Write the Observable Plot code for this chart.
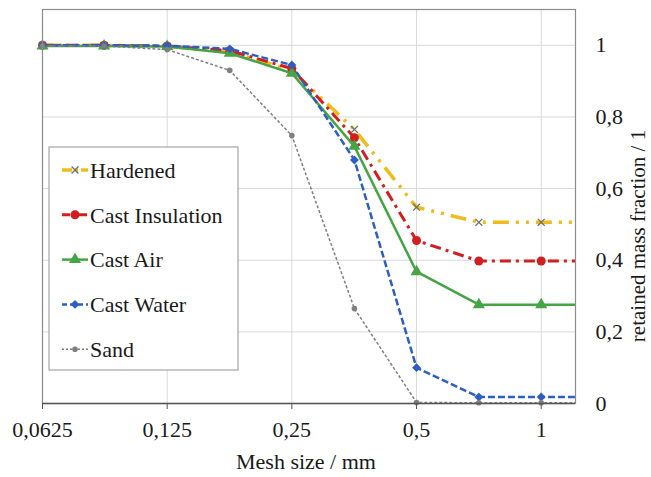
<!DOCTYPE html>
<html>
<head>
<meta charset="utf-8">
<script src="https://cdn.jsdelivr.net/npm/d3@7"></script>
<script src="https://cdn.jsdelivr.net/npm/@observablehq/plot@0.6"></script>
<style>
  html, body { margin: 0; padding: 0; background: #fff; }
  #chart { width: 651px; height: 477px; }
  #chart svg text { font-family: "Liberation Serif", "Tinos", "Times New Roman", Times, "DejaVu Serif", "Noto Serif", serif !important; }
</style>
</head>
<body>
<div id="chart"></div>
<script>
// ---- data ----
const meshSizes = [0.0625, 0.088, 0.125, 0.177, 0.25, 0.354, 0.5, 0.707, 1, 1.414];
const seriesNames = ["Hardened", "Cast Insulation", "Cast Air", "Cast Water", "Sand"];
const hardened       = [1.000, 1.000, 0.997, 0.982, 0.930, 0.765, 0.548, 0.506, 0.506, 0.506];
const castInsulation = [1.000, 1.000, 0.998, 0.985, 0.935, 0.742, 0.455, 0.398, 0.398, 0.398];
const castAir        = [0.998, 0.998, 0.997, 0.978, 0.922, 0.718, 0.368, 0.276, 0.276, 0.276];
const castWater      = [1.000, 1.000, 0.999, 0.990, 0.945, 0.680, 0.100, 0.018, 0.018, 0.018];
const sand           = [0.998, 0.998, 0.988, 0.930, 0.748, 0.265, 0.003, 0.002, 0.002, 0.002];
const xTicks = [0.0625, 0.125, 0.25, 0.5, 1];
const yTicks = [0, 0.2, 0.4, 0.6, 0.8, 1];
const xLabel = "Mesh size / mm";
const yLabel = "retained mass fraction / 1";

// ---- styles ----
const styles = [
  {color: "#eebd1c", width: 3.5, dash: "16 7 3 7 3 7", legendDash: "10 3 3 3", symbol: "times", r: 3.2, fill: "none", markStroke: "#707070"},
  {color: "#d11f1f", width: 3, dash: "11 5 3 5", legendDash: "8 3 3 3", symbol: "circle", r: 4.5, fill: "#d11f1f", markStroke: "none"},
  {color: "#45a545", width: 2.5, dash: null, legendDash: null, symbol: "triangle", r: 4.5, fill: "#45a545", markStroke: "none"},
  {color: "#2d5ec2", width: 2.5, dash: "7 3", legendDash: "5 3", symbol: "diamond2", r: 4, fill: "#2d5ec2", markStroke: "none"},
  {color: "#7f7f7f", width: 1.5, dash: "3 2", legendDash: "2 2", symbol: "circle", r: 2.8, fill: "#7f7f7f", markStroke: "none"}
];
const values = [hardened, castInsulation, castAir, castWater, sand];
const data = seriesNames.map((name, i) => meshSizes.map((x, j) => ({series: name, x, y: values[i][j]})));

const fmt = d => String(d).replace(".", ",");
const font = "'Liberation Serif', 'Tinos', 'Times New Roman', Times, 'DejaVu Serif', serif";

const marks = [
  Plot.gridY(yTicks, {stroke: "#d9d9d9", strokeOpacity: 1, strokeWidth: 1}),
  Plot.gridX(xTicks, {stroke: "#d9d9d9", strokeOpacity: 1, strokeWidth: 1}),
];
data.forEach((d, i) => {
  const s = styles[i];
  marks.push(Plot.line(d, {x: "x", y: "y", stroke: s.color, strokeWidth: s.width,
    strokeDasharray: s.dash || undefined, strokeLinecap: "butt", clip: true}));
});
data.forEach((d, i) => {
  const s = styles[i];
  marks.push(Plot.dot(d.filter(p => p.x <= 1), {x: "x", y: "y", symbol: () => s.symbol, r: s.r,
    fill: s.fill, stroke: s.markStroke, strokeWidth: 1.3}));
});
marks.push(
  Plot.frame({stroke: "#8c8c8c", strokeWidth: 1.2}),
  Plot.ruleY([0], {stroke: "#555", strokeWidth: 1.3}),
  Plot.axisX(xTicks, {tickFormat: fmt, tickSize: 6, tickPadding: 12, label: null,
    stroke: "#555", fontSize: 22, fill: "#1a1a1a"}),
  Plot.axisY(yTicks, {anchor: "right", tickFormat: fmt, tickSize: 0, tickPadding: 20,
    label: null, fontSize: 22, fill: "#1a1a1a"})
);

const plot = Plot.plot({
  width: 651, height: 477,
  marginLeft: 42, marginRight: 76, marginTop: 9, marginBottom: 74,
  style: {fontFamily: font, fontSize: "22px", background: "#fff", color: "#1a1a1a"},
  x: {type: "log", base: 2, domain: [0.0625, 1.21]},
  y: {domain: [0, 1.1]},
  symbol: {type: "identity"},
  marks
});

const svg = d3.select(plot);
// axis titles
svg.append("text").text(xLabel)
  .attr("x", 306).attr("y", 469).attr("text-anchor", "middle")
  .attr("font-family", font).attr("font-size", 22).attr("fill", "#1a1a1a");
svg.append("text").text(yLabel)
  .attr("transform", "translate(645,236) rotate(-90)").attr("text-anchor", "middle")
  .attr("font-family", font).attr("font-size", 21).attr("fill", "#1a1a1a");

// legend
const lg = svg.append("g");
lg.append("rect").attr("x", 49).attr("y", 147).attr("width", 189).attr("height", 223)
  .attr("fill", "#fff").attr("stroke", "#a6a6a6").attr("stroke-width", 1.2);
const symMap = {circle: d3.symbolCircle, triangle: d3.symbolTriangle, diamond2: d3.symbolDiamond2, times: d3.symbolTimes};
seriesNames.forEach((name, i) => {
  const s = styles[i];
  const y = 170 + i * 44.8;
  lg.append("line").attr("x1", 62).attr("x2", 88).attr("y1", y).attr("y2", y)
    .attr("stroke", s.color).attr("stroke-width", s.width)
    .attr("stroke-dasharray", s.legendDash);
  lg.append("path").attr("d", d3.symbol(symMap[s.symbol], s.r * s.r * Math.PI)())
    .attr("transform", `translate(75,${y})`)
    .attr("fill", s.fill).attr("stroke", s.markStroke).attr("stroke-width", 1.3);
  lg.append("text").text(name).attr("x", 90).attr("y", y).attr("dy", "0.35em")
    .attr("text-anchor", "start")
    .attr("font-family", font).attr("font-size", 22).attr("fill", "#1a1a1a");
});

document.getElementById("chart").appendChild(plot);
</script>
</body>
</html>
